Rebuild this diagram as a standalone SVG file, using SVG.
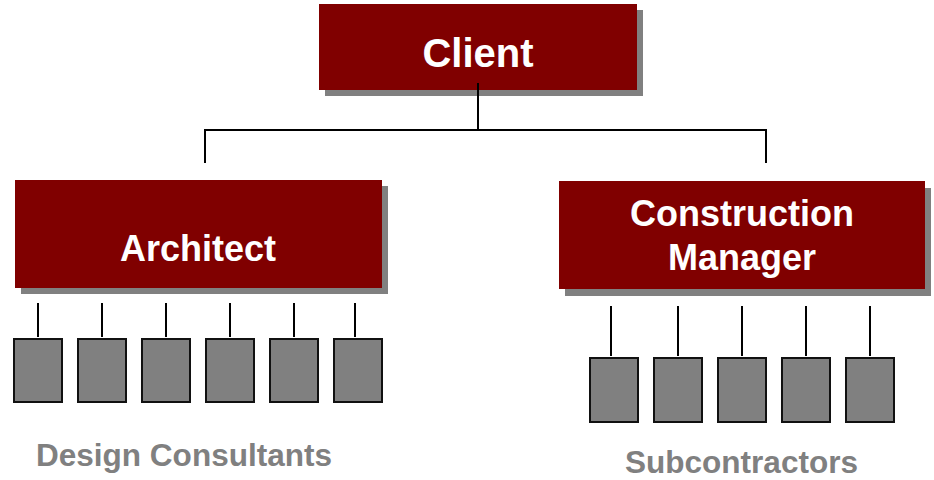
<svg xmlns="http://www.w3.org/2000/svg" width="934" height="480" viewBox="0 0 934 480">
  <style>
    .shadow { fill: #808080; }
    .box { fill: #800000; }
    .title { fill: #ffffff; font-family: "Liberation Sans", Arial, sans-serif; font-weight: bold; text-anchor: middle; }
    .unit { fill: #808080; stroke: #111111; stroke-width: 2; }
    .link { stroke: #000000; stroke-width: 2; fill: none; }
    .caption { fill: #808080; font-family: "Liberation Sans", Arial, sans-serif; font-weight: bold; font-size: 32px; }
  </style>
  <rect width="934" height="480" fill="#ffffff"/>

  <!-- Top of the hierarchy -->
  <g id="client">
    <rect class="shadow" x="325" y="10" width="318" height="86"/>
    <rect class="box" x="319" y="4" width="318" height="86"/>
    <text class="title" x="478" y="67" font-size="40">Client</text>
  </g>

  <g id="architect">
    <rect class="shadow" x="21" y="186" width="367" height="108"/>
    <rect class="box" x="15" y="180" width="367" height="108"/>
    <text class="title" x="198" y="261" font-size="36">Architect</text>
  </g>

  <g id="construction-manager">
    <rect class="shadow" x="565" y="188" width="366" height="108"/>
    <rect class="box" x="559" y="181" width="366" height="108"/>
    <text class="title" x="742" y="226" font-size="36">Construction</text>
    <text class="title" x="742" y="270" font-size="36">Manager</text>
  </g>

  <!-- Connectors -->
  <g id="connectors">
    <path class="link" d="M478 83 V130 M205 130 H766 M205 129 V163 M766 129 V163"/>
    <path class="link" d="M38 303 V337 M102 303 V337 M166 303 V337 M230 303 V337 M294 303 V337 M355 303 V337"/>
    <path class="link" d="M611 306 V356 M678 306 V356 M742 306 V356 M806 306 V356 M870 306 V356"/>
  </g>

  <!-- Design consultants -->
  <g id="consultants">
    <rect class="unit" x="14" y="339" width="48" height="63"/>
    <rect class="unit" x="78" y="339" width="48" height="63"/>
    <rect class="unit" x="142" y="339" width="48" height="63"/>
    <rect class="unit" x="206" y="339" width="48" height="63"/>
    <rect class="unit" x="270" y="339" width="48" height="63"/>
    <rect class="unit" x="334" y="339" width="48" height="63"/>
    <text class="caption" x="36" y="466" textLength="296" lengthAdjust="spacingAndGlyphs">Design Consultants</text>
  </g>

  <!-- Subcontractors -->
  <g id="subcontractors">
    <rect class="unit" x="590" y="358" width="48" height="64"/>
    <rect class="unit" x="654" y="358" width="48" height="64"/>
    <rect class="unit" x="718" y="358" width="48" height="64"/>
    <rect class="unit" x="782" y="358" width="48" height="64"/>
    <rect class="unit" x="846" y="358" width="48" height="64"/>
    <text class="caption" x="625" y="473" textLength="233" lengthAdjust="spacingAndGlyphs">Subcontractors</text>
  </g>
</svg>
